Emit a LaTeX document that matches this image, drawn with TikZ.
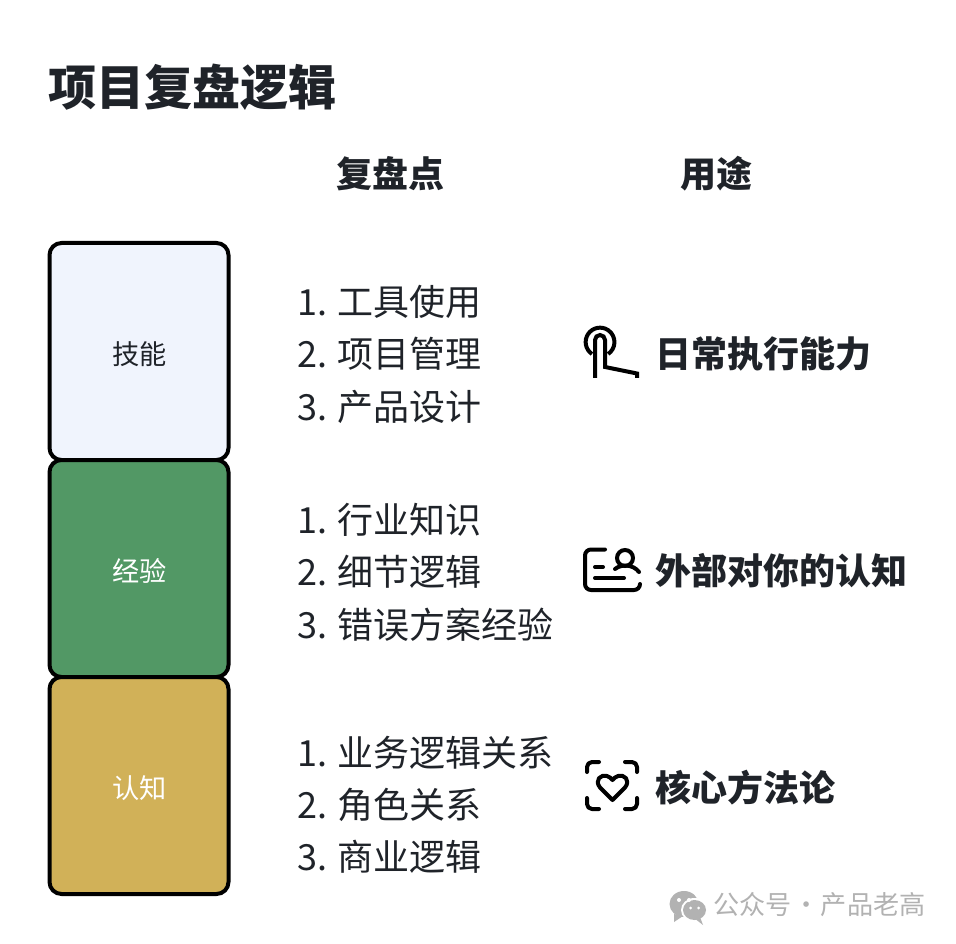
\documentclass[tikz,border=0pt]{standalone}
\usepackage{fontspec}
\setmainfont{Noto Sans CJK SC}
\definecolor{ink}{HTML}{1F2329}
\definecolor{skillfill}{HTML}{F0F4FD}
\definecolor{expfill}{HTML}{529865}
\definecolor{cogfill}{HTML}{D1B158}
\definecolor{wm}{HTML}{B2B2B2}
\newcommand{\fsz}[1]{\fontsize{#1pt}{#1pt}\selectfont}
\newcommand{\boxlabel}[1]{\hspace*{0.75pt}\raisebox{-9.6pt}[0pt][0pt]{#1}}
\tikzset{
  x=0.75pt,y=-0.75pt,
  stack/.style={draw=black,line width=3pt,rounded corners=9pt,minimum width=134.25pt,minimum height=162.75pt,inner sep=0pt,text=ink,font=\fsz{20.4}},
  lst/.style={anchor=west,inner sep=0pt,text=ink,font=\fsz{27}},
  head/.style={anchor=center,inner sep=0pt,text=ink,font=\fsz{27}\bfseries},
  use/.style={anchor=west,inner sep=0pt,text=ink,font=\fsz{27}\bfseries},
  icon/.style={draw=black,line width=3pt,fill=none},
  iconr/.style={icon,line cap=round,line join=round}
}
\begin{document}
\begin{tikzpicture}
\useasboundingbox[fill=white] (0,0) rectangle (956,944);
\node[anchor=west,inner sep=0pt,text=ink,font=\fsz{36.1}\bfseries] (title) at (48,87) {项目复盘逻辑};
\node[head] (h1) at (390,174) {复盘点};
\node[head] (h2) at (716,174) {用途};

\node[stack,fill=skillfill] (b1) at (139,351.5) {\boxlabel{技能}};
\node[stack,fill=expfill,text=white] (b2) at (139,568.5) {\boxlabel{经验}};
\node[stack,fill=cogfill,text=white] (b3) at (139,785.5) {\boxlabel{认知}};

\node[lst] (a1) at (297,302) {1. 工具使用};
\node[lst] (a2) at (297,354) {2. 项目管理};
\node[lst] (a3) at (297,407) {3. 产品设计};
\node[lst] (c1) at (297,520) {1. 行业知识};
\node[lst] (c2) at (297,572) {2. 细节逻辑};
\node[lst] (c3) at (297,625) {3. 错误方案经验};
\node[lst] (d1) at (297,753) {1. 业务逻辑关系};
\node[lst] (d2) at (297,805) {2. 角色关系};
\node[lst] (d3) at (297,857) {3. 商业逻辑};

\node[use] (u1) at (655.5,354) {日常执行能力};
\node[use] (u2) at (655.5,571) {外部对你的认知};
\node[use] (u3) at (655.5,788) {核心方法论};

% hand icon
\draw[icon] (595,378) -- (595,340) arc (180:360:5) -- (605,367) -- (637,373.5) -- (637,378);
\draw[icon] (592,354) arc (124:416:14.4);
% person card icon
\draw[iconr] (605,549.5) -- (591,549.5) arc (270:180:6) -- (585,584) arc (180:90:6) -- (634,590) arc (90:0:6);
\draw[iconr] (595,567) -- (603,567);
\draw[iconr] (595,578) -- (624,578);
\draw[icon] (625,558) circle (8);
\draw[iconr] (615,569) .. controls (621,564) and (633,564) .. (639,572);
% heart frame icon
\draw[iconr] (587,772) -- (587,767) arc (180:270:5) -- (599,762);
\draw[iconr] (625,762) -- (632,762) arc (270:360:5) -- (637,772);
\draw[iconr] (587,798) -- (587,804) arc (180:90:5) -- (599,809);
\draw[iconr] (625,809) -- (632,809) arc (90:0:5) -- (637,798);
\draw[icon,line join=round] (612.5,800) -- (600,787.5) .. controls (594,780) and (601,774) .. (607,776) .. controls (609.5,777) and (611,778) .. (612.5,780) .. controls (614,778) and (615.5,777) .. (618,776) .. controls (624,774) and (631,780) .. (625,787.5) -- cycle;

% watermark
\fill[wm] (684,904) ellipse (14.5 and 13);
\fill[wm] (674,914) -- (674,922) -- (683,916) -- cycle;
\fill[white] (694.5,910) ellipse (13.5 and 12);
\fill[wm] (694.5,910) ellipse (11.5 and 10);
\fill[wm] (700,917) -- (703,925) -- (694,918) -- cycle;
\fill[white] (679,900) circle (2) (689,900) circle (2) (690.5,908) circle (1.5) (698.5,908) circle (1.5);
\node[anchor=west,inner sep=0pt,text=wm,font=\fsz{19.6}] (wmtext) at (713,905) {公众号\kern-3.2pt{} · \kern-3.2pt{}产品老高};
\end{tikzpicture}
\end{document}
